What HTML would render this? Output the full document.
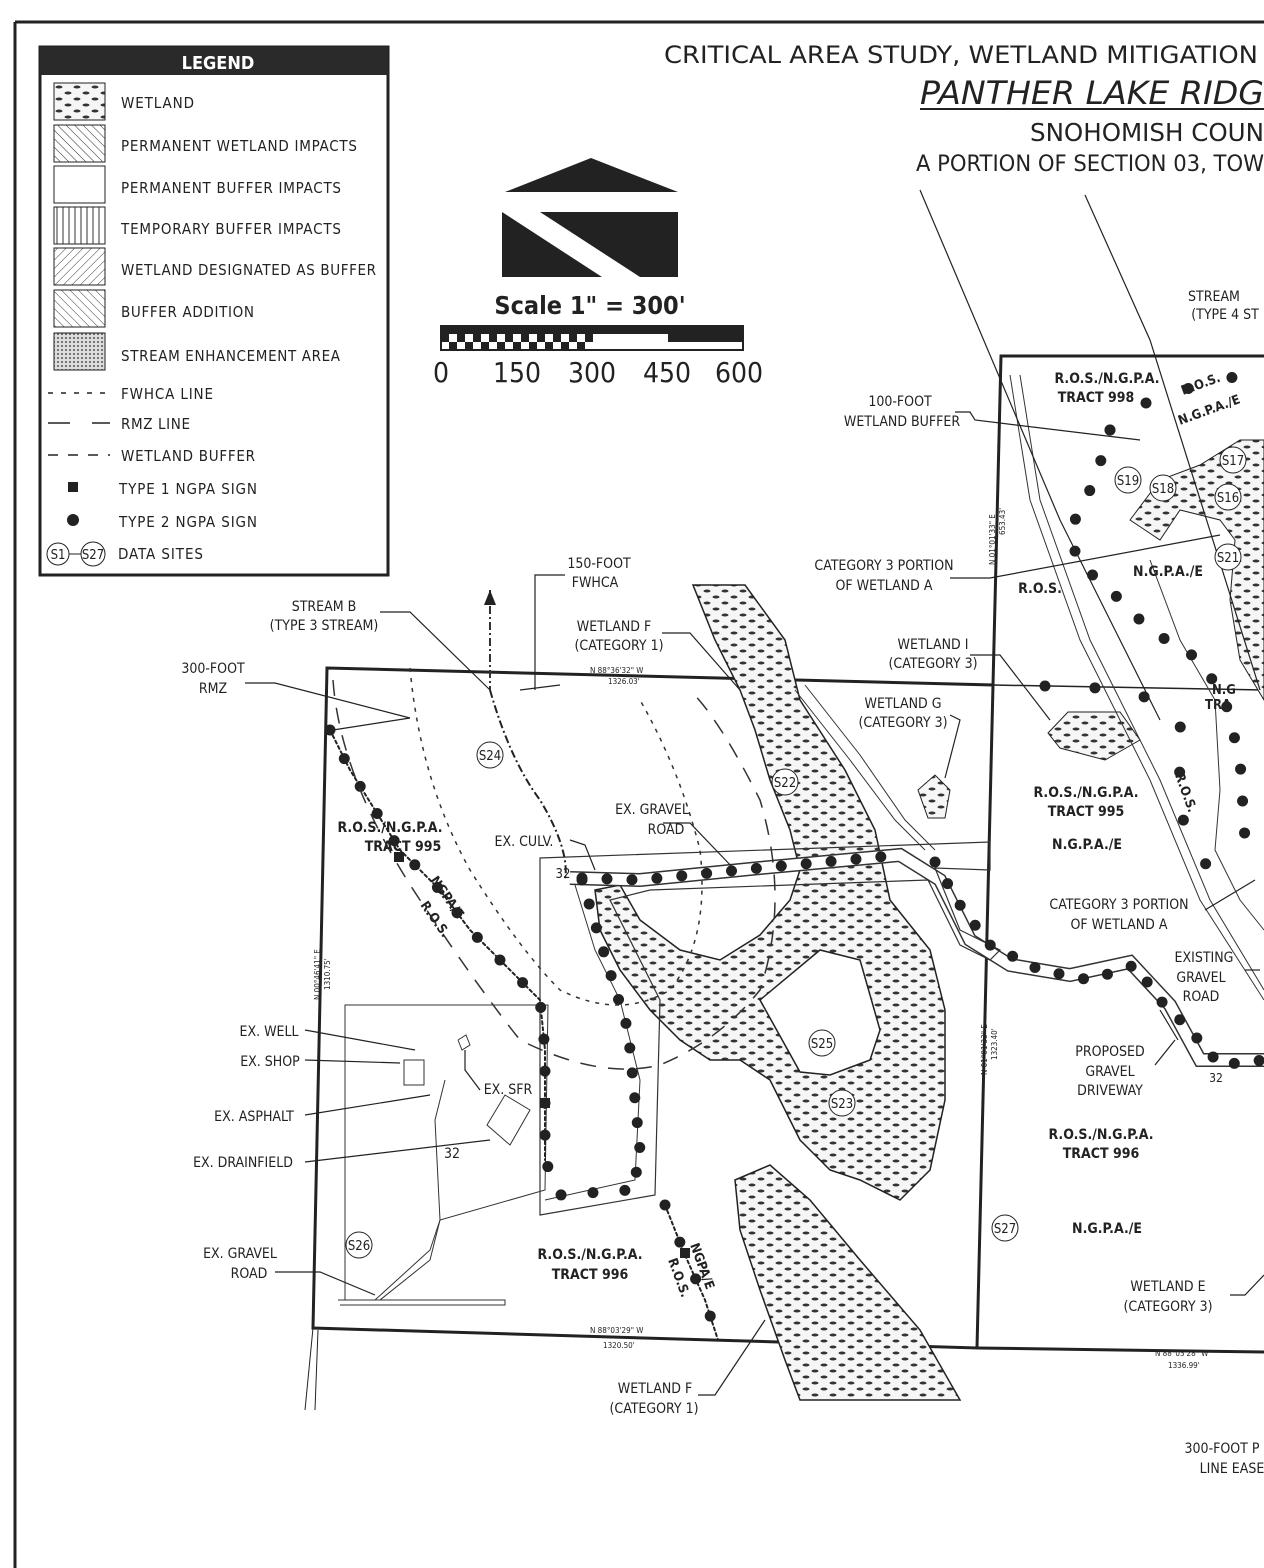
<!DOCTYPE html>
<html><head><meta charset="utf-8">
<style>
html,body{margin:0;padding:0;background:#fff;}
svg{display:block;}
text{font-family:"DejaVu Sans Condensed","Liberation Sans",sans-serif;fill:#222;}
.t{font-size:14px;}
.b{font-weight:bold;}
</style></head>
<body>
<svg width="1264" height="1568" viewBox="0 0 1264 1568" xmlns="http://www.w3.org/2000/svg">
<defs>
<pattern id="wet" width="18" height="12" patternUnits="userSpaceOnUse">
<rect width="18" height="12" fill="#f6f6f6"/>
<ellipse cx="5" cy="3" rx="3.5" ry="1.5" fill="#333"/>
<ellipse cx="14" cy="9" rx="3.5" ry="1.5" fill="#333"/>
</pattern>
<pattern id="diag1" width="6" height="6" patternUnits="userSpaceOnUse" patternTransform="rotate(-45)"><rect width="6" height="6" fill="#fff"/><line x1="0" y1="0" x2="0" y2="6" stroke="#333" stroke-width="1"/></pattern>
<pattern id="diag2" width="6" height="6" patternUnits="userSpaceOnUse" patternTransform="rotate(45)"><rect width="6" height="6" fill="#fff"/><line x1="0" y1="0" x2="0" y2="6" stroke="#333" stroke-width="1"/></pattern>
<pattern id="vert" width="6" height="6" patternUnits="userSpaceOnUse"><rect width="6" height="6" fill="#fff"/><line x1="3" y1="0" x2="3" y2="6" stroke="#333" stroke-width="1"/></pattern>
<pattern id="mesh" width="4" height="4" patternUnits="userSpaceOnUse"><rect width="4" height="4" fill="#ddd"/><circle cx="2" cy="2" r="1" fill="#555"/></pattern>
</defs>

<line x1="15" y1="22" x2="1264" y2="22" stroke="#222" stroke-width="3"/>
<line x1="15" y1="22" x2="15" y2="1568" stroke="#222" stroke-width="3"/>

<rect x="40" y="47" width="348" height="528" fill="#fff" stroke="#222" stroke-width="3"/>
<rect x="40" y="47" width="348" height="28" fill="#2a2a2a"/>
<text x="218" y="69" text-anchor="middle" class="b" style="font-size:18px;fill:#fff">LEGEND</text>
<rect x="54" y="83" width="51" height="37" fill="url(#wet)" stroke="#222"/>
<rect x="54" y="125" width="51" height="37" fill="url(#diag1)" stroke="#222"/>
<rect x="54" y="166" width="51" height="37" fill="#fff" stroke="#222"/>
<rect x="54" y="207" width="51" height="37" fill="url(#vert)" stroke="#222"/>
<rect x="54" y="248" width="51" height="37" fill="url(#diag2)" stroke="#222"/>
<rect x="54" y="290" width="51" height="37" fill="url(#diag1)" stroke="#222"/>
<rect x="54" y="333" width="51" height="37" fill="url(#mesh)" stroke="#222"/>
<g style="font-size:15px">
<text x="121" y="108" textLength="73">WETLAND</text>
<text x="121" y="151" textLength="236">PERMANENT WETLAND IMPACTS</text>
<text x="121" y="193" textLength="220">PERMANENT BUFFER IMPACTS</text>
<text x="121" y="234" textLength="220">TEMPORARY BUFFER IMPACTS</text>
<text x="121" y="275" textLength="255">WETLAND DESIGNATED AS BUFFER</text>
<text x="121" y="317" textLength="133">BUFFER ADDITION</text>
<text x="121" y="361" textLength="219">STREAM ENHANCEMENT AREA</text>
<text x="121" y="399" textLength="92">FWHCA LINE</text>
<text x="121" y="429" textLength="69">RMZ LINE</text>
<text x="121" y="461" textLength="134">WETLAND BUFFER</text>
<text x="119" y="494" textLength="138">TYPE 1 NGPA SIGN</text>
<text x="119" y="527" textLength="138">TYPE 2 NGPA SIGN</text>
<text x="118" y="559" textLength="85">DATA SITES</text>
</g>
<line x1="48" y1="393" x2="106" y2="393" stroke="#222" stroke-width="1.5" stroke-dasharray="5 8"/>
<line x1="48" y1="423" x2="70" y2="423" stroke="#222" stroke-width="1.5"/><line x1="92" y1="423" x2="110" y2="423" stroke="#222" stroke-width="1.5"/>
<line x1="48" y1="455" x2="110" y2="455" stroke="#222" stroke-width="1.5" stroke-dasharray="10 10"/>
<rect x="68" y="482" width="10" height="10" fill="#222"/>
<circle cx="73" cy="520" r="6" fill="#222"/>
<circle cx="58" cy="554" r="11" fill="#fff" stroke="#222"/><text x="58" y="559" text-anchor="middle" style="font-size:13px">S1</text>
<line x1="69" y1="554" x2="81" y2="554" stroke="#222"/>
<circle cx="93" cy="554" r="12" fill="#fff" stroke="#222"/><text x="93" y="559" text-anchor="middle" style="font-size:13px">S27</text>

<text x="664" y="63" style="font-size:24px" textLength="594" lengthAdjust="spacingAndGlyphs">CRITICAL AREA STUDY, WETLAND MITIGATION</text>
<text x="920" y="104" style="font-size:32px;font-style:italic" textLength="344" lengthAdjust="spacingAndGlyphs">PANTHER LAKE RIDG</text>
<line x1="920" y1="109" x2="1264" y2="109" stroke="#222" stroke-width="2"/>
<text x="1030" y="141" style="font-size:25px" textLength="234" lengthAdjust="spacingAndGlyphs">SNOHOMISH COUN</text>
<text x="916" y="171" style="font-size:22px" textLength="348" lengthAdjust="spacingAndGlyphs">A PORTION OF SECTION 03, TOW</text>

<polygon points="505,192 591,158 678,192" fill="#222"/>
<polygon points="502,212 678,212 678,277 502,277" fill="#222"/>
<polygon points="502,212 540,212 640,277 602,277" fill="#fff"/>
<text x="590" y="314" text-anchor="middle" class="b" style="font-size:25px">Scale 1" = 300'</text>
<rect x="441" y="326" width="302" height="24" fill="#fff" stroke="#222" stroke-width="2"/>
<rect x="441" y="326" width="302" height="8" fill="#222"/>
<g fill="#222">
<rect x="441" y="334" width="8" height="8"/><rect x="457" y="334" width="8" height="8"/><rect x="473" y="334" width="8" height="8"/><rect x="489" y="334" width="8" height="8"/><rect x="505" y="334" width="8" height="8"/><rect x="521" y="334" width="8" height="8"/><rect x="537" y="334" width="8" height="8"/><rect x="553" y="334" width="8" height="8"/><rect x="569" y="334" width="8" height="8"/><rect x="585" y="334" width="8" height="8"/>
<rect x="449" y="342" width="8" height="8"/><rect x="465" y="342" width="8" height="8"/><rect x="481" y="342" width="8" height="8"/><rect x="497" y="342" width="8" height="8"/><rect x="513" y="342" width="8" height="8"/><rect x="529" y="342" width="8" height="8"/><rect x="545" y="342" width="8" height="8"/><rect x="561" y="342" width="8" height="8"/><rect x="577" y="342" width="8" height="8"/>
<rect x="668" y="334" width="75" height="8"/>
</g>
<g style="font-size:28px" text-anchor="middle">
<text x="441" y="382">0</text><text x="517" y="382">150</text><text x="592" y="382">300</text><text x="667" y="382">450</text><text x="739" y="382">600</text>
</g>

<polygon points="327,668 993,685 977,1348 313,1328" fill="none" stroke="#222" stroke-width="3"/>
<polyline points="977,1348 1264,1352" fill="none" stroke="#222" stroke-width="3"/>
<polyline points="993,685 1001,356 1264,356" fill="none" stroke="#222" stroke-width="3"/>
<line x1="993" y1="685" x2="1264" y2="690" stroke="#222" stroke-width="1.5"/>
<polyline points="313,1328 305,1410" fill="none" stroke="#222"/><polyline points="318,1330 315,1410" fill="none" stroke="#222"/>

<path d="M693,585 L745,585 L785,640 L800,700 L845,770 L875,830 L890,900 L930,950 L945,1010 L945,1100 L930,1170 L900,1200 L860,1180 L830,1170 L800,1140 L770,1080 L740,1060 L710,1060 L680,1040 L650,1010 L620,970 L600,930 L595,890 L620,885 L640,920 L680,950 L720,960 L760,935 L790,900 L800,870 L790,830 L770,780 L755,730 L740,690 L715,640 Z" fill="url(#wet)" stroke="#222" stroke-width="1.5"/>
<polygon points="760,1000 820,950 860,960 880,1030 870,1060 830,1075 800,1072" fill="#fff" stroke="#222" stroke-width="1.5"/>
<path d="M735,1180 L770,1165 L810,1200 L860,1260 L920,1330 L960,1400 L800,1400 L785,1360 L760,1290 L740,1230 Z" fill="url(#wet)" stroke="#222" stroke-width="1.5"/>
<polygon points="918,790 935,775 950,790 945,818 928,818" fill="url(#wet)" stroke="#222"/>
<polygon points="1048,733 1068,712 1120,712 1140,740 1105,760 1060,748" fill="url(#wet)" stroke="#222"/>
<path d="M1130,520 L1160,480 L1200,465 L1240,440 L1264,440 L1264,700 L1240,660 L1230,600 L1235,540 L1220,520 L1180,510 L1160,540 Z" fill="url(#wet)" stroke="#222"/>

<polyline points="570,878 640,880 760,868 900,855 940,880 970,940 1010,965 1070,975 1130,962 1170,1005 1200,1060 1264,1060" fill="none" stroke="#333" stroke-width="14"/>
<polyline points="570,878 640,880 760,868 900,855 940,880 970,940 1010,965 1070,975 1130,962 1170,1005 1200,1060 1264,1060" fill="none" stroke="#fff" stroke-width="11"/>
<polyline points="575,885 595,950 620,1000 640,1080 635,1180 545,1200" fill="none" stroke="#333" stroke-width="1"/>
<polygon points="540,858 990,842 990,870 935,868 960,930 1000,950 990,960 960,945 928,880 650,890 610,900 660,1000 655,1195 540,1215" fill="none" stroke="#333" stroke-width="1.2"/>
<polyline points="795,690 850,760 895,820 925,850" fill="none" stroke="#333"/>
<polyline points="805,685 860,755 905,820 935,850" fill="none" stroke="#333"/>
<polyline points="1010,375 1030,500 1080,640 1150,780 1200,900 1264,1000" fill="none" stroke="#333"/>
<polyline points="1020,375 1040,500 1090,640 1160,780 1210,900 1264,990" fill="none" stroke="#333"/>
<polyline points="1150,560 1180,640 1215,700 1220,790 1215,850 1240,900 1264,930" fill="none" stroke="#333"/>
<polygon points="345,1005 548,1005 545,1190 440,1220 430,1260 380,1300 345,1300" fill="none" stroke="#333"/>
<polyline points="338,1300 505,1300 505,1305 340,1305" fill="none" stroke="#333"/>
<polyline points="445,1080 435,1120 440,1220 430,1250 375,1300" fill="none" stroke="#333"/>
<rect x="404" y="1060" width="20" height="25" fill="none" stroke="#333"/>
<polygon points="487,1125 505,1095 530,1110 510,1145" fill="none" stroke="#333"/>
<polyline points="458,1040 466,1035 470,1045 462,1050 458,1040" fill="none" stroke="#333"/>

<g fill="none" stroke="#222" stroke-linecap="round">
<polyline points="330,730 350,770 375,810 400,850 440,890 470,930 505,965 540,1000 545,1050 545,1160 560,1195 630,1190" stroke-width="11" stroke-dasharray="0 32"/>
<polyline points="330,730 350,770 375,810 400,850 440,890 470,930 505,965 540,1000 545,1050 545,1160" stroke-width="2" stroke-dasharray="3 3"/>
<polyline points="582,878 640,880 760,868 900,855" stroke-width="11" stroke-dasharray="0 25"/>
<polyline points="582,880 600,940 628,1030 640,1150 635,1180" stroke-width="11" stroke-dasharray="0 25"/>
<polyline points="935,862 960,905 990,945 1040,970 1090,980 1135,965 1160,1000 1190,1030 1220,1065 1264,1060" stroke-width="11" stroke-dasharray="0 25"/>
<polyline points="665,1205 685,1255 705,1300 718,1340" stroke-width="11" stroke-dasharray="0 40"/>
<polyline points="665,1205 685,1255 705,1300 718,1340" stroke-width="2" stroke-dasharray="3 3"/>
<polyline points="1045,686 1100,688 1160,700 1190,740 1180,770 1175,800 1200,860 1230,880" stroke-width="11" stroke-dasharray="0 50"/>
<polyline points="1110,430 1095,480 1075,520 1075,560 1110,590 1150,630 1200,660 1225,700 1240,760 1245,840" stroke-width="11" stroke-dasharray="0 32"/>
<polyline points="1110,430 1150,400 1200,385 1264,370" stroke-width="11" stroke-dasharray="0 45"/>
</g>
<rect x="394" y="852" width="10" height="10" fill="#222"/>
<rect x="540" y="1098" width="10" height="10" fill="#222"/>
<rect x="680" y="1248" width="10" height="10" fill="#222"/>

<g fill="none" stroke="#333" stroke-width="1.5">
<path d="M333,680 Q340,780 420,900 Q480,990 520,1040 Q600,1080 660,1065 Q720,1040 760,990 Q790,900 760,800 Q720,720 690,690" stroke-dasharray="16 12"/>
<path d="M410,668 Q420,780 470,870 Q520,950 560,990 Q620,1020 670,990 Q710,940 700,850 Q680,770 640,700" stroke-dasharray="4 6"/>
<path d="M490,690 Q510,760 540,800 Q570,850 565,880" stroke="#222" stroke-width="2" stroke-dasharray="8 3 2 3"/>
<line x1="490" y1="590" x2="490" y2="690" stroke-dasharray="8 3 2 3" stroke-width="2"/>
</g>
<polygon points="484,605 490,590 496,605" fill="#222"/>

<g fill="none" stroke="#222" stroke-width="1.2">
<polyline points="245,683 275,683 410,718"/><polyline points="333,730 410,718"/>
<polyline points="380,612 410,612 490,690"/>
<polyline points="520,690 560,685"/><polyline points="535,640 535,690"/>
<polyline points="565,575 535,575 535,640"/>
<polyline points="662,633 690,633 740,690"/>
<polyline points="955,412 970,412 975,420 1140,440"/>
<polyline points="950,578 990,578 1220,535"/>
<polyline points="920,190 1060,520 1160,720"/>
<polyline points="1085,195 1150,340 1260,690"/>
<polyline points="970,655 1000,655 1050,720"/>
<polyline points="950,715 960,720 945,778"/>
<polyline points="663,823 690,823 735,870"/>
<polyline points="570,840 585,845 595,870"/>
<polyline points="305,1030 415,1050"/><polyline points="305,1060 400,1063"/>
<polyline points="305,1115 430,1095"/><polyline points="305,1162 490,1140"/>
<polyline points="275,1272 320,1272 375,1295"/>
<polyline points="480,1090 465,1070 465,1050"/>
<polyline points="1160,1010 1178,1040"/><polyline points="1155,1065 1175,1040"/>
<polyline points="1205,910 1255,880"/>
<polyline points="1245,970 1260,970"/>
<polyline points="1230,1295 1245,1295 1264,1275"/>
<polyline points="698,1395 715,1395 765,1320"/>
</g>

<g style="font-size:13px" text-anchor="middle">
<circle cx="490" cy="755" r="13" fill="#fff" stroke="#222"/><text x="490" y="760">S24</text>
<circle cx="785" cy="782" r="13" fill="#fff" stroke="#222"/><text x="785" y="787">S22</text>
<circle cx="822" cy="1043" r="13" fill="#fff" stroke="#222"/><text x="822" y="1048">S25</text>
<circle cx="842" cy="1103" r="13" fill="#fff" stroke="#222"/><text x="842" y="1108">S23</text>
<circle cx="359" cy="1245" r="13" fill="#fff" stroke="#222"/><text x="359" y="1250">S26</text>
<circle cx="1005" cy="1228" r="13" fill="#fff" stroke="#222"/><text x="1005" y="1233">S27</text>
<circle cx="1128" cy="480" r="13" fill="#fff" stroke="#222"/><text x="1128" y="485">S19</text>
<circle cx="1163" cy="488" r="13" fill="#fff" stroke="#222"/><text x="1163" y="493">S18</text>
<circle cx="1233" cy="460" r="13" fill="#fff" stroke="#222"/><text x="1233" y="465">S17</text>
<circle cx="1228" cy="497" r="13" fill="#fff" stroke="#222"/><text x="1228" y="502">S16</text>
<circle cx="1228" cy="557" r="13" fill="#fff" stroke="#222"/><text x="1228" y="562">S21</text>
</g>

<g class="t" text-anchor="middle">
<text x="1214" y="301">STREAM</text><text x="1225" y="319">(TYPE 4 ST</text>
<text x="900" y="406">100-FOOT</text><text x="902" y="426">WETLAND BUFFER</text>
<text x="1107" y="383" class="b">R.O.S./N.G.P.A.</text><text x="1096" y="402" class="b">TRACT 998</text>
<text x="884" y="570">CATEGORY 3 PORTION</text><text x="884" y="590">OF WETLAND A</text>
<text x="1040" y="593" class="b">R.O.S.</text>
<text x="1168" y="576" class="b">N.G.P.A./E</text>
<text x="599" y="568">150-FOOT</text><text x="595" y="587">FWHCA</text>
<text x="324" y="611">STREAM B</text><text x="324" y="630">(TYPE 3 STREAM)</text>
<text x="614" y="631">WETLAND F</text><text x="619" y="650">(CATEGORY 1)</text>
<text x="933" y="649">WETLAND I</text><text x="933" y="668">(CATEGORY 3)</text>
<text x="213" y="673">300-FOOT</text><text x="213" y="693">RMZ</text>
<text x="903" y="708">WETLAND G</text><text x="903" y="727">(CATEGORY 3)</text>
<text x="1086" y="797" class="b">R.O.S./N.G.P.A.</text><text x="1086" y="816" class="b">TRACT 995</text>
<text x="1087" y="849" class="b">N.G.P.A./E</text>
<text x="652" y="814">EX. GRAVEL</text><text x="666" y="834">ROAD</text>
<text x="390" y="832" class="b">R.O.S./N.G.P.A.</text><text x="403" y="851" class="b">TRACT 995</text>
<text x="524" y="846">EX. CULV.</text>
<text x="563" y="878" style="font-size:13px">32</text>
<text x="1119" y="909">CATEGORY 3 PORTION</text><text x="1119" y="929">OF WETLAND A</text>
<text x="1204" y="962">EXISTING</text><text x="1201" y="982">GRAVEL</text><text x="1201" y="1001">ROAD</text>
<text x="269" y="1036">EX. WELL</text><text x="270" y="1066">EX. SHOP</text>
<text x="1110" y="1056">PROPOSED</text><text x="1110" y="1076">GRAVEL</text><text x="1110" y="1095">DRIVEWAY</text>
<text x="508" y="1094">EX. SFR</text>
<text x="254" y="1121">EX. ASPHALT</text>
<text x="243" y="1167">EX. DRAINFIELD</text>
<text x="452" y="1158">32</text>
<text x="1216" y="1082" style="font-size:12px">32</text>
<text x="1101" y="1139" class="b">R.O.S./N.G.P.A.</text><text x="1101" y="1158" class="b">TRACT 996</text>
<text x="1107" y="1233" class="b">N.G.P.A./E</text>
<text x="240" y="1258">EX. GRAVEL</text><text x="249" y="1278">ROAD</text>
<text x="590" y="1259" class="b">R.O.S./N.G.P.A.</text><text x="590" y="1279" class="b">TRACT 996</text>
<text x="1168" y="1291">WETLAND E</text><text x="1168" y="1311">(CATEGORY 3)</text>
<text x="655" y="1393">WETLAND F</text><text x="654" y="1413">(CATEGORY 1)</text>
<text x="1222" y="1453">300-FOOT P</text><text x="1232" y="1473">LINE EASE</text>
</g>
<g class="b" style="font-size:13px">
<text x="0" y="0" transform="translate(430,880) rotate(55)">NGPA/E</text>
<text x="0" y="0" transform="translate(420,905) rotate(55)">R.O.S.</text>
<text x="0" y="0" transform="translate(690,1245) rotate(70)">NGPA/E</text>
<text x="0" y="0" transform="translate(668,1260) rotate(70)">R.O.S.</text>
<text x="0" y="0" transform="translate(1175,775) rotate(70)">R.O.S.</text>
<text x="0" y="0" transform="translate(1183,395) rotate(-20)">R.O.S.</text>
<text x="0" y="0" transform="translate(1180,425) rotate(-20)">N.G.P.A./E</text>
<text x="1212" y="694">N.G</text><text x="1205" y="709">TRA</text>
</g>
<g style="font-size:8px">
<text x="590" y="673">N 88°36'32" W</text><text x="608" y="684">1326.03'</text>
<text x="590" y="1333">N 88°03'29" W</text><text x="603" y="1348">1320.50'</text>
<text x="1155" y="1356">N 88°03'28" W</text><text x="1168" y="1368">1336.99'</text>
<text transform="translate(995,565) rotate(-90)">N 01°01'33" E</text>
<text transform="translate(1005,535) rotate(-90)">653.43'</text>
<text transform="translate(320,1000) rotate(-90)">N 00°46'41" E</text>
<text transform="translate(330,990) rotate(-90)">1310.75'</text>
<text transform="translate(987,1075) rotate(-90)">N 01°01'33" E</text>
<text transform="translate(997,1060) rotate(-90)">1323.40'</text>
</g>
</svg>
</body></html>
